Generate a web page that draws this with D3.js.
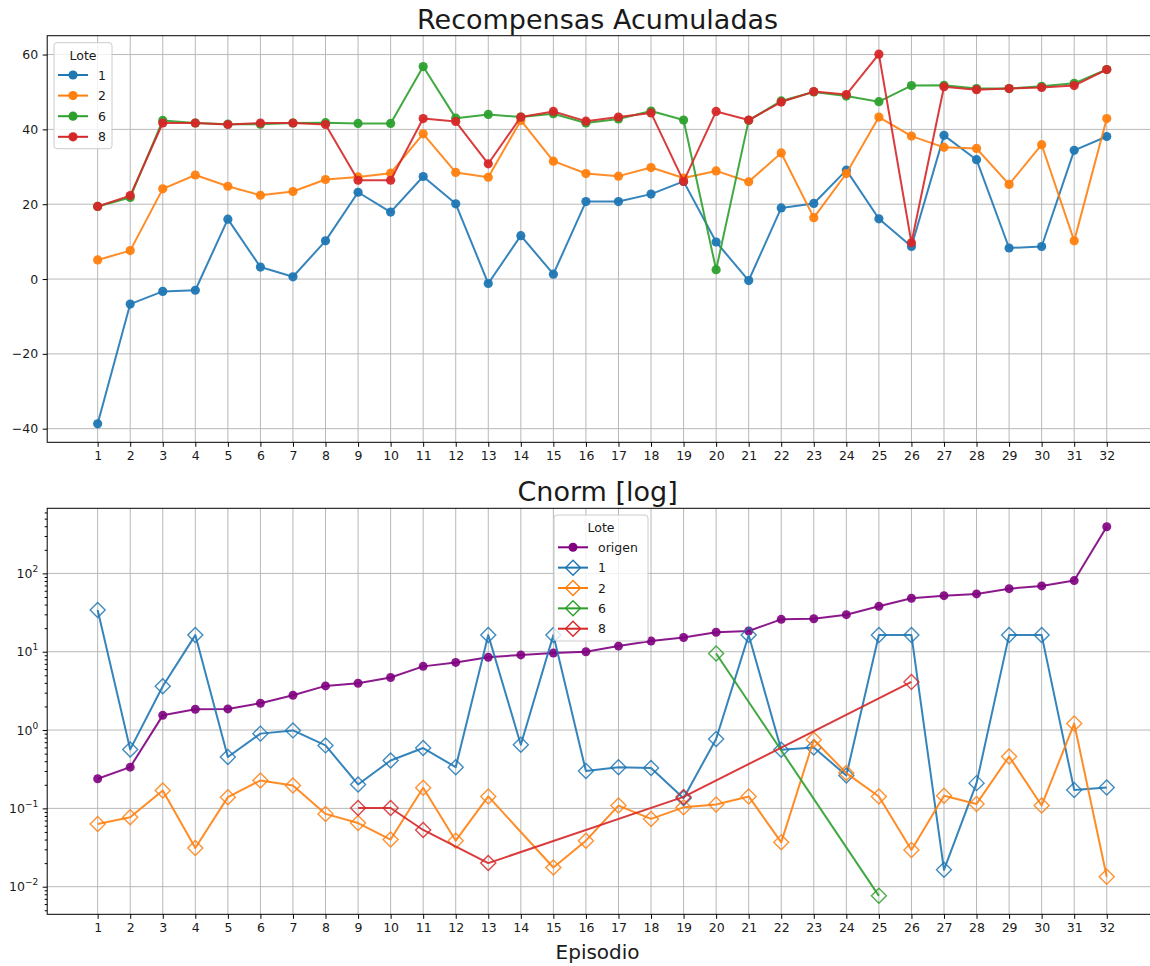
<!DOCTYPE html>
<html>
<head>
<meta charset="utf-8">
<script src="https://cdn.jsdelivr.net/npm/d3@7"></script>
<style>
  html, body { margin: 0; padding: 0; background: #fff; }
  svg { display: block; font-family: "DejaVu Sans", sans-serif; }
</style>
</head>
<body>
<svg id="chart" width="1150" height="966"></svg>
<script>
// Episode numbers on the x axis
const episodes = [1,2,3,4,5,6,7,8,9,10,11,12,13,14,15,16,17,18,19,20,21,22,23,24,25,26,27,28,29,30,31,32];

// Accumulated rewards per batch ("Lote")
const rewards1 = [-38.7,-6.7,-3.3,-3.0,16.0,3.2,0.6,10.2,23.2,17.9,27.4,20.1,-1.2,11.6,1.3,20.7,20.7,22.7,26.1,9.9,-0.4,19.0,20.2,29.1,16.1,8.7,38.4,31.9,8.3,8.7,34.4,38.1];
const rewards2 = [5.1,7.6,24.1,27.8,24.8,22.4,23.4,26.6,27.3,28.3,38.8,28.5,27.2,42.4,31.5,28.2,27.5,29.8,27.0,28.9,26.0,33.7,16.4,28.2,43.3,38.2,35.2,34.9,25.3,35.9,10.2,42.9];
const rewards6 = [19.4,21.8,42.4,41.7,41.4,41.4,41.7,41.8,41.6,41.6,56.8,43.0,44.0,43.3,44.2,41.7,42.8,44.9,42.5,2.5,42.4,47.6,50.0,48.9,47.4,51.7,51.8,50.9,50.9,51.5,52.3,56.0];
const rewards8 = [19.4,22.3,41.7,41.7,41.3,41.7,41.7,41.3,26.4,26.4,42.9,42.1,30.8,43.3,44.8,42.2,43.3,44.4,26.1,44.8,42.5,47.3,50.1,49.3,60.1,9.7,51.4,50.6,50.9,51.2,51.7,56.0];

// Cnorm values (log scale); null = no value for that episode
const cnormOrigen = [0.239,0.336,1.54,1.84,1.86,2.2,2.78,3.66,3.96,4.69,6.5,7.3,8.5,9.1,9.6,10.0,11.8,13.7,15.2,17.7,18.4,25.9,26.4,29.7,38.0,48.1,52.0,54.7,63.8,69.2,80.9,394];
const cnorm1 = [34.1,0.566,3.63,16.3,0.452,0.90,0.99,0.637,0.202,0.409,0.589,0.336,16.3,0.65,16.3,0.299,0.336,0.327,0.135,0.767,16.3,0.561,0.60,0.263,16.3,16.3,0.0164,0.21,16.3,16.3,0.172,0.185];
const cnorm2 = [0.0633,0.0769,0.169,0.0312,0.139,0.227,0.196,0.085,0.065,0.040,0.183,0.0387,0.142,null,0.0176,0.0387,0.1086,0.0733,0.103,0.112,0.142,0.0368,0.753,0.282,0.142,0.0294,0.145,0.114,0.46,0.109,1.21,0.0134];
const cnorm6 = [null,null,null,null,null,null,null,null,null,null,null,null,null,null,null,null,null,null,null,9.5,null,null,null,null,0.00764,null,null,null,null,null,null,null];
const cnorm8 = [null,null,null,null,null,null,null,null,0.101,0.101,0.053,null,0.020,null,null,null,null,null,0.14,null,null,null,null,null,null,4.12,null,null,null,null,null,null];

// Y tick values
const rewardTicks = [-40,-20,0,20,40,60];
const cnormTicks = [0.01,0.1,1,10,100];

const colors = { "1": "#1f77b4", "2": "#ff7f0e", "6": "#2ca02c", "8": "#d62728", origen: "#800080" };

const rewardSeries = [
  { name: "1", values: rewards1 },
  { name: "2", values: rewards2 },
  { name: "6", values: rewards6 },
  { name: "8", values: rewards8 }
];
const cnormSeries = [
  { name: "origen", values: cnormOrigen, marker: "circle" },
  { name: "1", values: cnorm1, marker: "diamond" },
  { name: "2", values: cnorm2, marker: "diamond" },
  { name: "6", values: cnorm6, marker: "diamond" },
  { name: "8", values: cnorm8, marker: "diamond" }
];

const svg = d3.select("#chart");
const textColor = "#1a1a1a";
const gridColor = "#b8b8b8";

// Shared x layout: 5% padding on each side of the episode range
const left = 47.2, right = 1157.2;
const xPad = (d3.max(episodes) - d3.min(episodes)) * 0.05;
const x = d3.scaleLinear()
  .domain([d3.min(episodes) - xPad, d3.max(episodes) + xPad])
  .range([left, right]);

function drawFrame(g, top, bottom, y, yTicks) {
  // grid
  g.append("g").selectAll("line").data(episodes).join("line")
    .attr("x1", d => x(d)).attr("x2", d => x(d))
    .attr("y1", top).attr("y2", bottom)
    .attr("stroke", gridColor).attr("stroke-width", 1);
  g.append("g").selectAll("line").data(yTicks).join("line")
    .attr("x1", left).attr("x2", right)
    .attr("y1", d => y(d)).attr("y2", d => y(d))
    .attr("stroke", gridColor).attr("stroke-width", 1);
}

function drawSpines(g, top, bottom) {
  g.append("rect")
    .attr("x", left).attr("y", top)
    .attr("width", right - left).attr("height", bottom - top)
    .attr("fill", "none").attr("stroke", "#000").attr("stroke-width", 1);
}

function styleAxis(sel) {
  sel.select(".domain").remove();
  sel.selectAll(".tick line").attr("stroke", "#000").attr("stroke-width", 1);
  sel.selectAll(".tick text").attr("fill", textColor).attr("font-size", 12.5)
    .attr("font-family", "DejaVu Sans, sans-serif");
}

const minus = s => s.replace("-", "\u2212");

// ---------- Top: accumulated rewards ----------
const t1 = 35.7, b1 = 442.3;
const rExt = d3.extent(rewardSeries.flatMap(s => s.values));
const rPad = (rExt[1] - rExt[0]) * 0.05;
const y1 = d3.scaleLinear().domain([rExt[0] - rPad, rExt[1] + rPad]).range([b1, t1]);

const g1 = svg.append("g");
drawFrame(g1, t1, b1, y1, rewardTicks);

g1.append("g").attr("transform", `translate(0,${b1})`)
  .call(d3.axisBottom(x).tickValues(episodes).tickSize(4.5).tickPadding(4.5).tickSizeOuter(0))
  .call(styleAxis);
g1.append("g").attr("transform", `translate(${left},0)`)
  .call(d3.axisLeft(y1).tickValues(rewardTicks).tickSize(4.5).tickPadding(4.5).tickSizeOuter(0)
    .tickFormat(d => minus(String(d))))
  .call(styleAxis);

const line1 = d3.line().x(d => x(d.ep)).y(d => y1(d.v));
rewardSeries.forEach(s => {
  const pts = episodes.map((ep, i) => ({ ep, v: s.values[i] }));
  const gs = g1.append("g");
  gs.append("path").datum(pts).attr("d", line1)
    .attr("fill", "none").attr("stroke", colors[s.name]).attr("stroke-width", 2)
    .attr("stroke-linejoin", "round").attr("opacity", 0.9);
  gs.selectAll("circle").data(pts).join("circle")
    .attr("cx", d => x(d.ep)).attr("cy", d => y1(d.v)).attr("r", 4.6)
    .attr("fill", colors[s.name]).attr("opacity", 0.95);
});
drawSpines(g1, t1, b1);

svg.append("text").attr("x", (left + 1148) / 2).attr("y", 29)
  .attr("text-anchor", "middle").attr("font-size", 27).attr("fill", textColor)
  .text("Recompensas Acumuladas");

// Legend (top)
function legend(g, lx, ly, w, h, titleY, rows, rowY0, dy, drawMarker) {
  const lg = g.append("g");
  lg.append("rect").attr("x", lx).attr("y", ly).attr("width", w).attr("height", h)
    .attr("rx", 3).attr("fill", "#fff").attr("fill-opacity", 0.8)
    .attr("stroke", "#cccccc").attr("stroke-width", 1);
  lg.append("text").attr("x", lx + w / 2).attr("y", titleY)
    .attr("text-anchor", "middle").attr("font-size", 12.5).attr("fill", textColor).text("Lote");
  rows.forEach((s, i) => {
    const cy = rowY0 + i * dy;
    lg.append("line").attr("x1", lx + 4).attr("x2", lx + 34).attr("y1", cy).attr("y2", cy)
      .attr("stroke", colors[s.name]).attr("stroke-width", 2);
    drawMarker(lg, s, lx + 19, cy);
    lg.append("text").attr("x", lx + 44).attr("y", cy + 4.5)
      .attr("font-size", 12.5).attr("fill", textColor).text(s.name);
  });
}

legend(g1, 54, 42.7, 58, 106, 59.5, rewardSeries, 75, 20.6, (lg, s, cx, cy) => {
  lg.append("circle").attr("cx", cx).attr("cy", cy).attr("r", 4.6).attr("fill", colors[s.name]);
});

// ---------- Bottom: Cnorm (log) ----------
const t2 = 508.3, b2 = 914.3;
const cVals = cnormSeries.flatMap(s => s.values).filter(v => v != null);
const lMin = Math.log10(d3.min(cVals)), lMax = Math.log10(d3.max(cVals));
const lPad = (lMax - lMin) * 0.05;
const y2 = d3.scaleLog().domain([Math.pow(10, lMin - lPad), Math.pow(10, lMax + lPad)]).range([b2, t2]);

const g2 = svg.append("g");
drawFrame(g2, t2, b2, y2, cnormTicks);

g2.append("g").attr("transform", `translate(0,${b2})`)
  .call(d3.axisBottom(x).tickValues(episodes).tickSize(4.5).tickPadding(4.5).tickSizeOuter(0))
  .call(styleAxis);

// minor ticks on the log axis
const [dLo, dHi] = y2.domain();
const minorTicks = [];
for (let e = -3; e <= 3; e++) {
  for (let m = 2; m <= 9; m++) {
    const v = m * Math.pow(10, e);
    if (v >= dLo && v <= dHi) minorTicks.push(v);
  }
}
g2.append("g").attr("transform", `translate(${left},0)`)
  .call(d3.axisLeft(y2).tickValues(minorTicks).tickSize(2.5).tickFormat("").tickSizeOuter(0))
  .call(styleAxis);

const yAx2 = g2.append("g").attr("transform", `translate(${left},0)`)
  .call(d3.axisLeft(y2).tickValues(cnormTicks).tickSize(4.5).tickPadding(4.5).tickSizeOuter(0)
    .tickFormat(() => ""))
  .call(styleAxis);
yAx2.selectAll(".tick text").each(function(d) {
  const t = d3.select(this);
  const exp = Math.round(Math.log10(d));
  t.append("tspan").text("10");
  t.append("tspan").attr("font-size", 9).attr("dy", -6).text(minus(String(exp)));
});

const line2 = d3.line().x(d => x(d.ep)).y(d => y2(d.v));
cnormSeries.forEach(s => {
  const pts = episodes.map((ep, i) => ({ ep, v: s.values[i] })).filter(d => d.v != null);
  const gs = g2.append("g");
  gs.append("path").datum(pts).attr("d", line2)
    .attr("fill", "none").attr("stroke", colors[s.name]).attr("stroke-width", 2)
    .attr("stroke-linejoin", "round").attr("opacity", 0.9);
  if (s.marker === "circle") {
    gs.selectAll("circle").data(pts).join("circle")
      .attr("cx", d => x(d.ep)).attr("cy", d => y2(d.v)).attr("r", 4.5)
      .attr("fill", colors[s.name]).attr("opacity", 0.9);
  } else {
    gs.selectAll("path.mk").data(pts).join("path").attr("class", "mk")
      .attr("d", d => {
        const cx = x(d.ep), cy = y2(d.v), r = 7.5;
        return `M${cx},${cy - r}L${cx + r},${cy}L${cx},${cy + r}L${cx - r},${cy}Z`;
      })
      .attr("fill", "none").attr("stroke", colors[s.name]).attr("stroke-width", 1.4)
      .attr("opacity", 0.85);
  }
});
drawSpines(g2, t2, b2);

svg.append("text").attr("x", (left + 1148) / 2).attr("y", 501)
  .attr("text-anchor", "middle").attr("font-size", 27).attr("fill", textColor)
  .text("Cnorm [log]");

svg.append("text").attr("x", (left + 1148) / 2).attr("y", 959)
  .attr("text-anchor", "middle").attr("font-size", 20).attr("fill", textColor)
  .text("Episodio");

legend(g2, 554, 515, 94, 126, 531.5, cnormSeries, 547.3, 20.35, (lg, s, cx, cy) => {
  if (s.marker === "circle") {
    lg.append("circle").attr("cx", cx).attr("cy", cy).attr("r", 4.5).attr("fill", colors[s.name]);
  } else {
    const r = 7.5;
    lg.append("path")
      .attr("d", `M${cx},${cy - r}L${cx + r},${cy}L${cx},${cy + r}L${cx - r},${cy}Z`)
      .attr("fill", "none").attr("stroke", colors[s.name]).attr("stroke-width", 1.4);
  }
});
</script>
</body>
</html>
